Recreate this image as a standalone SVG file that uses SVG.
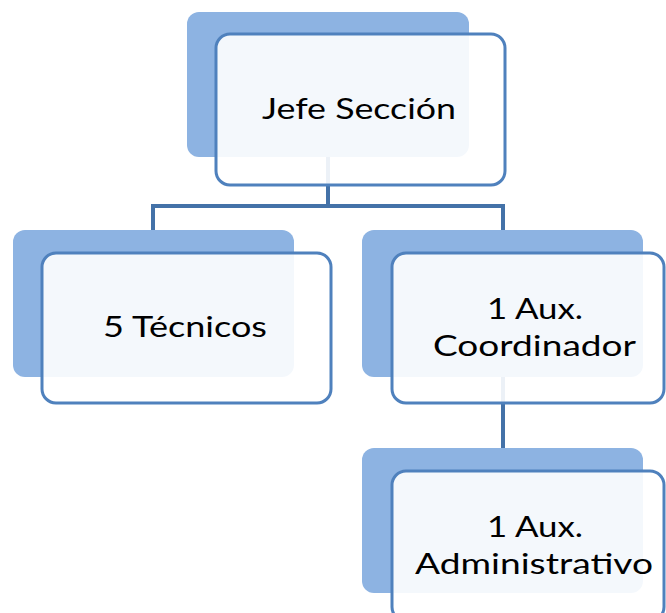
<svg xmlns="http://www.w3.org/2000/svg" width="666" height="613" viewBox="0 0 666 613">
<style>
.back{fill:#8db3e2;}
.front{fill:#ffffff;fill-opacity:0.9;stroke:#4f81bd;stroke-width:3;}
.conn{fill:none;stroke:#4472a8;stroke-width:4;}
.lbl{font-family:Lato,"Open Sans","Liberation Sans",sans-serif;font-size:29px;fill:#000;text-anchor:middle;}
</style>
<rect width="666" height="613" fill="#ffffff"/>
<g id="connectors">
<path class="conn" d="M328,157 V206 M153,206 H503 M153,204 V230 M503,204 V230"/>
<path class="conn" d="M503,377 V448"/>
</g>
<g id="node-jefe">
<rect class="back" x="187" y="12" width="282" height="145" rx="12"/>
<rect class="front" x="216" y="34" width="289" height="151" rx="14"/>
<text class="lbl" x="359" y="119" textLength="194" lengthAdjust="spacingAndGlyphs">Jefe Sección</text>
</g>
<g id="node-tecnicos">
<rect class="back" x="13" y="230" width="281" height="147" rx="12"/>
<rect class="front" x="42" y="253" width="289" height="150" rx="14"/>
<text class="lbl" x="185" y="337" textLength="164" lengthAdjust="spacingAndGlyphs">5 Técnicos</text>
</g>
<g id="node-coordinador">
<rect class="back" x="362" y="230" width="281" height="147" rx="12"/>
<rect class="front" x="392" y="253" width="272" height="150" rx="14"/>
<text class="lbl" x="535" y="319" textLength="96" lengthAdjust="spacingAndGlyphs">1 Aux.</text>
<text class="lbl" x="534.5" y="356" textLength="203" lengthAdjust="spacingAndGlyphs">Coordinador</text>
</g>
<g id="node-administrativo">
<rect class="back" x="362" y="448" width="281" height="145" rx="12"/>
<rect class="front" x="392" y="471" width="272" height="150" rx="14"/>
<text class="lbl" x="535" y="537" textLength="96" lengthAdjust="spacingAndGlyphs">1 Aux.</text>
<text class="lbl" x="534" y="574" textLength="238" lengthAdjust="spacingAndGlyphs">Administrativo</text>
</g>
</svg>
